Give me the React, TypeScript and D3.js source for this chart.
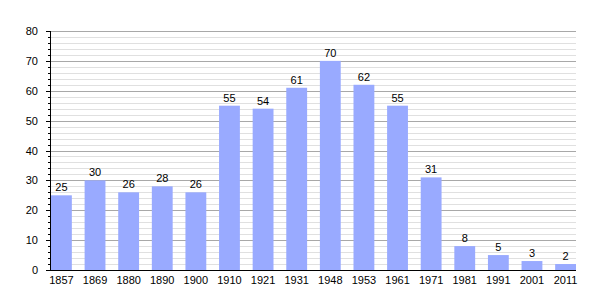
import React from "react";
import * as d3 from "d3";

const years = ["1857","1869","1880","1890","1900","1910","1921","1931","1948","1953","1961","1971","1981","1991","2001","2011"];
const population = [25,30,26,28,26,55,54,61,70,62,55,31,8,5,3,2];
const yMajorTicks = [0,10,20,30,40,50,60,70,80];

export default function App() {
  const W = 605, H = 300;
  const left = 50, right = 576, top = 31, bottom = 270;
  const x = d3.scaleBand<string>().domain(years).range([left + 1, right]).paddingInner(0.38).paddingOuter(0);
  const y = d3.scaleLinear().domain([0, 80]).range([bottom, top]);
  const minor = d3.range(0, 81, 2).filter(v => v % 10 !== 0);
  const font = "'Liberation Sans', Arial, sans-serif";
  return (
    <svg width={W} height={H} style={{ position: "absolute", left: 0, top: 0 }} fontFamily={font}>
      <rect width={W} height={H} fill="#fff" />
      {minor.map(v => (
        <line key={"m" + v} x1={left} x2={right} y1={Math.round(y(v)) + 0.5} y2={Math.round(y(v)) + 0.5} stroke="#e0e0e0" strokeWidth={1} />
      ))}
      {yMajorTicks.filter(v => v > 0).map(v => (
        <line key={"g" + v} x1={left} x2={right} y1={Math.round(y(v)) + 0.5} y2={Math.round(y(v)) + 0.5} stroke="#a8a8a8" strokeWidth={1} />
      ))}
      {years.map((yr, i) => (
        <g key={yr}>
          <rect x={x(yr)} y={y(population[i])} width={x.bandwidth()} height={bottom - y(population[i])} fill="#99aaff" />
          <text x={(x(yr) as number) + x.bandwidth() / 2} y={y(population[i]) - 4} fontSize={11} textAnchor="middle" fill="#000">{population[i]}</text>
          <text x={(x(yr) as number) + x.bandwidth() / 2} y={bottom + 14} fontSize={11} textAnchor="middle" fill="#000">{yr}</text>
        </g>
      ))}
      <line x1={left + 0.5} x2={left + 0.5} y1={top} y2={bottom + 1} stroke="#000" />
      <line x1={left} x2={right} y1={bottom + 0.5} y2={bottom + 0.5} stroke="#000" />
      {minor.map(v => (
        <line key={"mt" + v} x1={left - 2} x2={left} y1={Math.round(y(v)) + 0.5} y2={Math.round(y(v)) + 0.5} stroke="#000" />
      ))}
      {yMajorTicks.map(v => (
        <g key={"t" + v}>
          <line x1={left - 4} x2={left} y1={Math.round(y(v)) + 0.5} y2={Math.round(y(v)) + 0.5} stroke="#000" />
          <text x={left - 12} y={y(v) + 4} fontSize={11} textAnchor="end" fill="#000">{v}</text>
        </g>
      ))}
    </svg>
  );
}
